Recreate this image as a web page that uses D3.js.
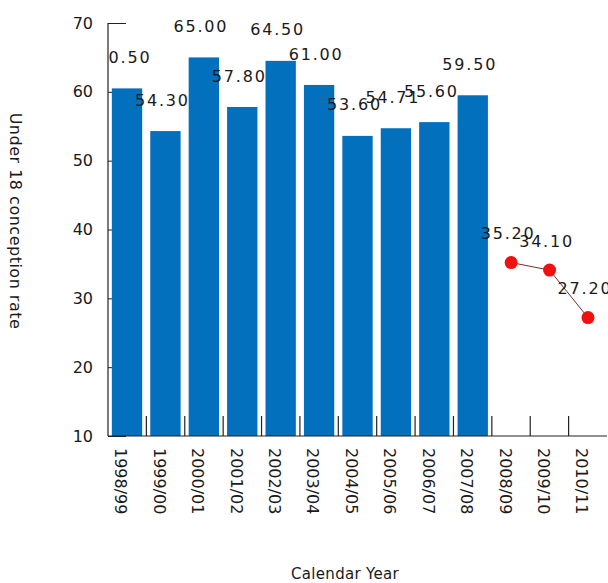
<!DOCTYPE html>
<html>
<head>
<meta charset="utf-8">
<script src="https://cdn.jsdelivr.net/npm/d3@7"></script>
<style>
  html, body { margin: 0; padding: 0; background: #fff; }
  svg { display: block; }
  text { font-family: "DejaVu Sans", Verdana, sans-serif; fill: #1a1a1a; }
</style>
</head>
<body>
<svg id="chart" width="608" height="583"></svg>
<script>
// Reporting years along the x axis
const categories = ["1998/99", "1999/00", "2000/01", "2001/02", "2002/03", "2003/04", "2004/05",
                    "2005/06", "2006/07", "2007/08", "2008/09", "2009/10", "2010/11"];
// Recorded rates (bars)
const barYears = ["1998/99", "1999/00", "2000/01", "2001/02", "2002/03", "2003/04", "2004/05",
                  "2005/06", "2006/07", "2007/08"];
const barValues = [60.5, 54.3, 65.0, 57.8, 64.5, 61.0, 53.6, 54.71, 55.6, 59.5];
// Later rates (line with markers)
const lineYears = ["2008/09", "2009/10", "2010/11"];
const lineValues = [35.2, 34.1, 27.2];
// Y axis ticks
const yTicks = [10, 20, 30, 40, 50, 60, 70];

const svg = d3.select("#chart");
const plotLeft = 108, plotRight = 607, plotTop = 23, plotBottom = 436;

const x = d3.scaleBand().domain(categories).range([plotLeft, plotRight]).paddingInner(0.21).paddingOuter(0.1);
const y = d3.scaleLinear().domain([10, 70]).range([plotBottom, plotTop]);

// Y axis: ticks point inward, drawn beneath the bars
const yAxis = svg.append("g")
  .attr("transform", `translate(${plotLeft},0)`)
  .call(d3.axisLeft(y).tickValues(yTicks).tickSizeInner(-18).tickSizeOuter(0).tickPadding(15).tickFormat(d3.format("d")));
yAxis.select(".domain").remove();
yAxis.selectAll(".tick line").attr("stroke", "#222");
yAxis.selectAll(".tick text").style("font-size", "16px").attr("fill", "#1a1a1a");

// X axis boundary ticks between categories, pointing up
const step = (plotRight - plotLeft) / categories.length;
const boundaries = d3.range(1, categories.length).map(i => plotLeft + i * step);
svg.append("g").selectAll("line").data(boundaries).join("line")
  .attr("x1", d => d).attr("x2", d => d)
  .attr("y1", plotBottom).attr("y2", plotBottom - 20)
  .attr("stroke", "#222").attr("stroke-width", 1.2);

// Bars
svg.append("g").selectAll("rect").data(barValues).join("rect")
  .attr("x", (d, i) => x(barYears[i]))
  .attr("width", x.bandwidth())
  .attr("y", d => y(d))
  .attr("height", d => plotBottom - y(d))
  .attr("fill", "#0270bd");

// Axis lines
svg.append("line").attr("x1", plotLeft).attr("x2", plotLeft).attr("y1", plotTop).attr("y2", plotBottom)
  .attr("stroke", "#222").attr("stroke-width", 1.2);
svg.append("line").attr("x1", plotLeft).attr("x2", plotRight).attr("y1", plotBottom).attr("y2", plotBottom)
  .attr("stroke", "#222").attr("stroke-width", 1.2);

// Category labels, rotated
const cx = d => x(d) + x.bandwidth() / 2;
svg.append("g").selectAll("text").data(categories).join("text")
  .attr("transform", d => `translate(${cx(d) - 6},448) rotate(90)`)
  .attr("dy", "0.35em")
  .style("font-size", "16px")
  .text(d => d);

// Line with markers
const line = d3.line().x((d, i) => cx(lineYears[i])).y(d => y(d));
svg.append("path").datum(lineValues)
  .attr("d", line).attr("fill", "none")
  .attr("stroke", "#7a2a2a").attr("stroke-width", 1);
svg.append("g").selectAll("circle").data(lineValues).join("circle")
  .attr("cx", (d, i) => cx(lineYears[i])).attr("cy", d => y(d))
  .attr("r", 6.5).attr("fill", "#f01010");

// Value labels, clipped to the plot area
svg.append("clipPath").attr("id", "plotClip")
  .append("rect").attr("x", plotLeft + 1).attr("y", 0).attr("width", 608 - plotLeft).attr("height", plotBottom);
const labels = svg.append("g").attr("clip-path", "url(#plotClip)");
labels.selectAll("text.bar").data(barValues).join("text")
  .attr("class", "bar")
  .attr("x", (d, i) => cx(barYears[i]) - 3)
  .attr("y", d => y(d) - 31)
  .attr("dy", "0.35em")
  .attr("text-anchor", "middle")
  .style("font-size", "16px").style("letter-spacing", "1.8px")
  .text(d => d.toFixed(2));
labels.selectAll("text.pt").data(lineValues).join("text")
  .attr("class", "pt")
  .attr("x", (d, i) => cx(lineYears[i]) - 3)
  .attr("y", d => y(d) - 29)
  .attr("dy", "0.35em")
  .attr("text-anchor", "middle")
  .style("font-size", "16px").style("letter-spacing", "1.8px")
  .text(d => d.toFixed(2));

// Axis titles
svg.append("text")
  .attr("transform", "translate(16,221) rotate(90)")
  .attr("dy", "0.35em")
  .attr("text-anchor", "middle")
  .style("font-size", "16px").style("letter-spacing", "0.5px")
  .text("Under 18 conception rate");
svg.append("text")
  .attr("x", 345).attr("y", 574)
  .attr("dy", "0.35em")
  .attr("text-anchor", "middle")
  .style("font-size", "15px").style("letter-spacing", "0.3px")
  .text("Calendar Year");
</script>
</body>
</html>
